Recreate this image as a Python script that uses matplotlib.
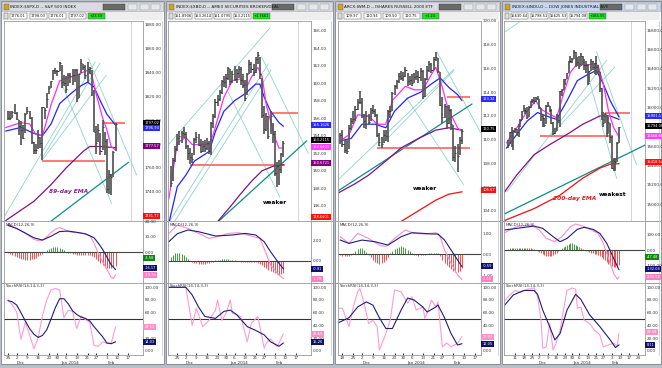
import numpy as np
import matplotlib
matplotlib.use("Agg")
import matplotlib.pyplot as plt
from matplotlib.patches import Rectangle

# bar index 0 = Nov 25 2013, one step per trading day
date_ticks = [-10, -5, 0, 4, 9, 14, 19, 23, 27, 32, 37, 41, 46, 51, 56, 61]
date_labels = ["11", "18", "25", "2", "9", "16", "23", "30", "6", "13", "21", "27", "3", "10", "17", "24"]
month_pos = [6, 29, 48]
month_labels = ["Dec", "Jan 2014", "Feb"]

# ---------------- S&P 500 ----------------
sp_start = 0
sp_high = [1808, 1808, 1808, 1814, 1807, 1800, 1799, 1796, 1806, 1811, 1808, 1803, 1782, 1780, 1792, 1786, 1811,
           1810, 1823, 1829, 1833, 1842, 1844, 1842, 1849, 1846, 1838, 1837, 1840, 1840, 1843, 1843, 1843, 1839,
           1851, 1847, 1846, 1849, 1845, 1842, 1825, 1795, 1797, 1789, 1800, 1790, 1784, 1758, 1755, 1774, 1798]
sp_low = [1800, 1800, 1802, 1805, 1800, 1788, 1779, 1784, 1789, 1805, 1801, 1780, 1772, 1772, 1776, 1777, 1767,
          1801, 1810, 1822, 1827, 1834, 1839, 1837, 1841, 1827, 1829, 1823, 1829, 1831, 1830, 1832, 1815, 1819,
          1840, 1842, 1835, 1832, 1839, 1820, 1790, 1772, 1782, 1771, 1775, 1771, 1739, 1738, 1737, 1752, 1774]
sp_close = [1802, 1802, 1807, 1806, 1801, 1795, 1792, 1785, 1805, 1808, 1802, 1782, 1775, 1775, 1786, 1781, 1811,
            1809, 1818, 1827, 1833, 1842, 1841, 1841, 1848, 1832, 1831, 1826, 1838, 1837, 1838, 1842, 1819, 1839,
            1848, 1845, 1838, 1843, 1844, 1829, 1790, 1781, 1792, 1774, 1794, 1783, 1742, 1755, 1752, 1773, 1797]
sp_fast = [(-1, 1794), (6, 1798), (10, 1797), (13, 1788), (16, 1787), (20, 1813), (24, 1833), (27, 1835),
           (32, 1838), (37, 1842), (39, 1838), (41, 1822), (44, 1802), (46, 1792), (48, 1778), (50, 1775)]
sp_mid = [(-1, 1791), (6, 1794), (12, 1789), (16, 1787), (20, 1797), (24, 1814), (29, 1822), (33, 1828),
          (37, 1832), (40, 1828), (43, 1816), (46, 1805), (50, 1796)]
sp_slow = [(-1, 1716), (12, 1732), (20, 1746), (27, 1760), (35, 1774), (38, 1778), (43, 1778), (50, 1777)]
sp_macd = [(0, 18), (2, 17), (4, 15.3), (6, 14), (8, 12.5), (10, 10.5), (12, 8.5), (14, 7.6), (16, 7.8), (18, 10),
           (20, 12.8), (22, 15), (24, 16), (26, 15), (28, 13.5), (30, 13), (32, 12.8), (34, 12.5), (36, 12),
           (38, 11), (40, 6), (42, -0.5), (44, -6), (46, -11), (48, -16), (49, -16.8), (50, -14.5)]
sp_signal = [(0, 17.4), (4, 15.5), (8, 12.5), (12, 9.5), (16, 8), (20, 10.5), (24, 13.5), (28, 13.8), (32, 13),
             (36, 12), (40, 9.5), (42, 6), (44, 2), (46, -3), (48, -8), (50, -11)]
sp_hist = [-0.5, -1.0, -1.6, -2.2, -2.8, -3.4, -3.9, -4.3, -4.6, -4.8, -4.7, -4.4, -3.9, -3.3, -2.6, -1.8, -0.9,
           0.4, 1.3, 2.1, 2.8, 3.3, 3.6, 3.5, 3.0, 2.2, 1.3,
           0.5, -0.2, -0.6, -0.9, -1.2, -1.5, -1.7, -1.8, -1.7, -1.5, -1.4, -1.6, -2.2,
           -3.2, -4.5, -5.8, -7.0, -8.0, -9.0, -9.8, -10.3, -10.2, -9.6, -8.8]
sp_k = [(0, 80), (2, 72), (4, 61), (6, 18), (8, 45), (10, 25), (12, 3), (14, 20), (16, 55), (18, 80), (20, 96),
        (22, 98), (24, 96), (26, 52), (28, 64), (30, 62), (32, 35), (34, 55), (36, 49), (38, 45), (40, 8),
        (42, 7), (44, 14), (46, 12), (48, 12), (50, 37)]
sp_d = [(0, 79), (2, 77), (4, 72), (6, 60), (8, 47), (10, 35), (12, 26), (14, 21), (16, 24), (18, 33), (20, 50),
        (22, 68), (24, 82), (26, 82), (28, 74), (30, 63), (32, 57), (34, 53), (36, 51), (38, 47), (40, 38),
        (42, 30), (44, 22), (46, 12), (48, 11), (50, 14)]
sp_levels = [(15.7, 45.1, 1765.5), (44.3, 54.4, 1798)]
sp_trends = [((-1.4, 1720.3), (40.5, 1848.9)), ((15.7, 1767.8), (42.8, 1848)), ((15.7, 1766.1), (45.6, 1837.6)),
             ((25, 1830.5), (48.2, 1730.2)), ((37.4, 1851.7), (59.8, 1754.2))]
sp_dark = ((19.5, 1714.7), (56, 1764.7))

# ---------------- AMEX Securities Broker/Dealer ----------------
xbd_start = -3
xbd_high = [150.5, 151.5, 152.8, 154.2, 154.5, 154.6, 155.0, 154.4, 153.0, 152.6, 152.0, 153.8, 154.4, 154.2,
            153.6, 153.4, 153.5, 153.8, 153.4, 155.6, 156.5, 158.2, 158.6, 159.2, 160.4, 160.8, 161.0, 161.9,
            161.6, 161.4, 162.0, 161.6, 162.0, 161.8, 161.0, 160.4, 161.2, 162.6, 162.4, 162.2, 163.0, 163.6,
            163.0, 160.6, 157.4, 156.6, 156.2, 156.8, 155.4, 154.6, 151.0, 151.2, 152.0, 153.4]
xbd_low = [148.2, 148.8, 151.0, 152.3, 153.0, 153.2, 153.8, 152.5, 151.2, 150.8, 150.9, 151.8, 153.2, 152.8,
           152.0, 152.1, 152.2, 152.4, 151.9, 151.8, 154.9, 156.0, 157.4, 158.0, 158.8, 159.6, 159.5, 160.4,
           159.8, 160.0, 160.2, 160.0, 160.6, 159.8, 159.4, 158.0, 158.6, 161.0, 161.2, 160.8, 161.2, 162.2,
           160.5, 156.0, 154.2, 154.6, 153.6, 154.2, 153.2, 149.4, 148.2, 148.4, 149.8, 151.6]
xbd_close = [148.6, 151.2, 152.5, 153.8, 154.0, 154.3, 154.2, 152.8, 152.0, 151.6, 151.3, 153.6, 153.9, 153.0,
             152.3, 152.8, 152.6, 153.2, 152.3, 155.4, 156.2, 157.9, 158.2, 159.0, 160.2, 160.1, 160.6, 161.7,
             160.3, 161.0, 160.5, 161.2, 161.6, 160.4, 159.8, 158.3, 161.0, 162.2, 161.6, 161.3, 162.8, 163.2,
             161.0, 156.4, 154.8, 156.2, 154.0, 156.2, 154.2, 149.8, 150.6, 150.2, 151.9, 153.2]
xbd_fast = [(-4, 146.8), (0, 153.2), (4, 153.8), (7, 153), (15, 153), (17, 154.2), (22, 158.4), (26, 160.3),
            (30, 160.5), (33, 159.7), (35, 160.7), (38, 161.8), (40, 160.8), (42, 157.5), (44, 155.7),
            (46, 153.8), (48, 152.6), (50, 152.6)]
xbd_mid = [(-4, 144), (0, 148.2), (4, 149.5), (8, 151.1), (15, 152.2), (18, 154.5), (22, 156.8), (27, 158),
           (32, 158.8), (37, 159.9), (39, 159.9), (41, 158.4), (44, 156.8), (48, 155.5), (50, 155.1)]
xbd_slow = [(19, 144.2), (25, 145.9), (30, 147.4), (35, 148.8), (40, 150.0), (45, 150.5), (50, 150.7)]
xbd_macd = [(-4, 2.73), (0, 3.57), (5, 3.23), (10, 2.73), (15, 2.23), (19, 2.4), (24, 2.73), (29, 2.8),
            (33, 2.57), (39, 2.23), (41, 1.2), (44, -0.43), (48, -1.43), (50, -1.77)]
xbd_signal = [(-4, 1.9), (0, 2.7), (5, 3.07), (10, 2.9), (18, 2.47), (26, 2.57), (32, 2.73), (37, 2.57),
              (41, 1.9), (44, 0.9), (48, -0.27), (50, -0.8)]
xbd_hist = [0.4, 0.6, 0.75, 0.8, 0.78, 0.7, 0.55, 0.4, 0.2,
            -0.05, -0.12, -0.2, -0.26, -0.3, -0.33, -0.33, -0.3, -0.26, -0.2, -0.14, -0.08,
            0.04, 0.08, 0.12, 0.15, 0.17, 0.17, 0.15, 0.12, 0.08, 0.04,
            -0.02, -0.05, -0.08, -0.1, -0.12, -0.14, -0.15, -0.16, -0.15, -0.14, -0.18, -0.3,
            -0.45, -0.6, -0.75, -0.9, -1.0, -1.1, -1.2, -1.3, -1.4, -1.35, -1.2]
xbd_k = [(-4, 100), (4, 100), (5, 80), (7, 40), (9, 67), (12, 38), (15, 48), (18, 64), (19, 80), (21, 48),
         (23, 59), (25, 80), (26, 59), (30, 54), (33, 14), (35, 43), (38, 54), (41, 4), (42, 12), (44, 19),
         (47, 6), (48, 12), (50, 26)]
xbd_d = [(-4, 100), (4, 100), (7, 88), (10, 69), (13, 54), (18, 51), (22, 62), (25, 64), (28, 57), (33, 38),
         (37, 32), (41, 25), (44, 14), (48, 7), (50, 12)]
xbd_levels = [(6, 50.8, 150.7), (44.5, 57, 156.6)]
xbd_trends = [((-4.2, 153), (43.7, 166.3)), ((-3.5, 144.3), (42.9, 162.2)), ((-1.1, 144.3), (44.2, 161.5)),
              ((24, 159), (48.4, 147)), ((39.8, 163), (61.8, 152))]
xbd_dark = ((19.3, 144.2), (61, 153.4))

# ---------------- iShares Russell 2000 ----------------
iwm_start = -6
iwm_high = [110.6, 110.8, 110.0, 110.0, 111.2, 111.8, 112.4, 112.8, 113.4, 114.1, 113.5, 112.2, 112.4, 112.2,
            112.7, 112.9, 112.6, 112.2, 110.6, 110.2, 110.8, 110.8, 112.5, 112.8, 114.0, 114.6, 115.0, 115.6,
            115.8, 115.7, 116.1, 115.6, 115.4, 115.5, 115.6, 115.9, 115.8, 116.0, 115.9, 115.2, 116.2, 116.6,
            116.5, 117.0, 117.4, 116.9, 115.7, 113.6, 113.0, 112.8, 112.9, 112.6, 111.2, 109.5, 109.6, 110.2, 110.9]
iwm_low = [109.6, 109.4, 108.9, 108.8, 109.2, 110.8, 111.3, 111.6, 112.5, 113.0, 111.8, 111.0, 110.9, 111.2,
           111.6, 112.2, 111.9, 110.2, 109.5, 109.3, 109.7, 109.9, 109.8, 111.8, 112.4, 113.8, 114.3, 114.8,
           115.0, 114.9, 115.3, 114.5, 114.6, 114.5, 114.8, 115.0, 114.8, 114.9, 113.4, 113.6, 115.0, 115.7,
           115.6, 115.9, 116.6, 115.6, 112.8, 111.4, 111.8, 110.9, 111.3, 110.8, 108.2, 108.1, 107.3, 108.7, 109.6]
iwm_close = [110.4, 109.6, 109.1, 109.0, 111.0, 111.6, 111.7, 112.6, 113.2, 113.2, 112.0, 111.6, 112.0, 111.5,
             112.5, 112.4, 112.1, 110.4, 109.8, 109.6, 110.4, 110.3, 112.4, 112.4, 113.9, 114.5, 114.9, 115.4,
             115.2, 115.4, 115.9, 114.9, 115.0, 114.8, 115.3, 115.4, 115.3, 115.8, 113.7, 115.1, 115.9, 116.4,
             115.9, 116.8, 117.0, 115.8, 112.9, 111.9, 112.8, 111.4, 112.5, 111.3, 108.5, 108.9, 108.6, 110.0, 110.75]
iwm_fast = [(-6, 109.9), (-2, 110.4), (2, 112.1), (7, 112), (11, 111.3), (15, 111.3), (18, 113.3), (24, 114.5),
            (28, 114.2), (32, 114.2), (36, 115.5), (38, 116.1), (41, 114.4), (43, 113), (45, 112.1), (48, 111),
            (50, 110.7)]
iwm_mid = [(-6, 109.9), (-1, 110.1), (4, 111.3), (10, 111.3), (15, 111), (19, 112.4), (25, 113.5), (31, 114),
           (36, 114.7), (40, 115.2), (44, 114.4), (48, 113.8), (50, 113.3)]
iwm_slow = [(-7, 105.5), (1, 106.3), (7, 107), (15, 108.2), (22, 109.3), (30, 110.1), (38, 110.8), (44, 111),
            (50, 110.8)]
iwm_200 = [(22, 103.1), (30, 104), (38, 104.9), (44, 105.4), (50, 105.6)]
iwm_macd = [(-6, 0.84), (-2, 0.52), (2, 1.0), (7, 0.76), (12, 0.44), (15, 0.37), (19, 0.76), (24, 1.16),
            (28, 1.0), (33, 0.97), (38, 1.03), (40, 0.84), (42, 0.21), (45, -0.43), (48, -0.98), (50, -1.2)]
iwm_signal = [(-6, 0.68), (-2, 0.52), (4, 0.68), (10, 0.6), (16, 0.44), (22, 0.84), (27, 1.03), (32, 1.0),
              (36, 0.97), (39, 0.97), (42, 0.68), (45, 0.21), (48, -0.27), (50, -0.59)]
iwm_hist = [-0.05, -0.08, -0.1, -0.1, -0.08, -0.04,
            0.05, 0.15, 0.25, 0.3, 0.28, 0.2, 0.1,
            -0.05, -0.15, -0.25, -0.35, -0.42, -0.45, -0.42, -0.35, -0.25, -0.12,
            0.05, 0.15, 0.25, 0.32, 0.37, 0.38, 0.36, 0.3, 0.22, 0.14, 0.06,
            -0.03, -0.05, -0.06, -0.05, -0.04, -0.02,
            0.03, 0.05, 0.07, 0.08, 0.07, 0.04,
            -0.1, -0.25, -0.4, -0.5, -0.6, -0.7, -0.78, -0.83, -0.85, -0.8, -0.65]
iwm_k = [(-7, 67), (-5, 67), (-3, 48), (-2, 38), (0, 69), (2, 93), (3, 98), (5, 75), (7, 43), (9, 48), (11, 38),
         (12, 1), (15, 27), (17, 48), (19, 96), (22, 93), (25, 75), (27, 85), (29, 64), (32, 69), (33, 51),
         (35, 69), (36, 80), (38, 69), (39, 77), (41, 6), (43, 12), (45, 6), (48, 12), (50, 22)]
iwm_d = [(-7, 44), (-2, 52), (2, 69), (6, 77), (9, 72), (12, 52), (15, 35), (18, 35), (22, 64), (25, 83),
         (28, 80), (32, 69), (34, 61), (38, 69), (39, 72), (42, 52), (45, 27), (48, 9), (50, 11)]
iwm_levels = [(10.8, 53.8, 109.3), (43, 53.8, 113.6)]
iwm_trends = [((-7.7, 106.5), (46.2, 115.9)), ((11.5, 109.3), (46.2, 115.8)),
              ((24.6, 113.5), (50.8, 106.2)), ((38.5, 117.4), (59.2, 110.4))]
iwm_dark = ((-7.7, 105.6), (54.6, 113))

# ---------------- Dow Jones Industrials ----------------
dj_start = -14
dj_high = [15660, 15750, 15797, 15770, 15790, 15780, 15825, 15880, 15965, 16030, 16000, 16010, 16020, 16065,
           16090, 16110, 16110, 16120, 16090, 16000, 15930, 15890, 16030, 16060, 16020, 15990, 15850, 15790,
           15930, 15900, 16170, 16190, 16290, 16300, 16360, 16480, 16530, 16510, 16590, 16570, 16520, 16530,
           16560, 16530, 16500, 16480, 16450, 16380, 16500, 16480, 16460, 16530, 16440, 16370, 16200, 15950,
           15940, 15920, 15900, 15840, 15710, 15480, 15480, 15640, 15800]
dj_low = [15580, 15620, 15590, 15560, 15740, 15710, 15700, 15800, 15870, 15960, 15930, 15880, 15900, 16000,
          16050, 16040, 16060, 16080, 15990, 15860, 15800, 15800, 15830, 16010, 15950, 15830, 15720, 15730,
          15760, 15840, 15800, 16120, 16180, 16230, 16290, 16360, 16460, 16460, 16500, 16420, 16430, 16400,
          16430, 16440, 16390, 16360, 16230, 16260, 16380, 16390, 16350, 16340, 16350, 16160, 15870, 15800,
          15840, 15700, 15740, 15630, 15360, 15340, 15340, 15440, 15630]
dj_close = [15618, 15746, 15593, 15761, 15783, 15750, 15821, 15876, 15962, 15976, 15967, 15900, 16009, 16064,
            16073, 16072, 16097, 16086, 16008, 15914, 15889, 15821, 16020, 16025, 15973, 15844, 15740, 15755,
            15885, 15875, 16167, 16179, 16221, 16294, 16357, 16479, 16478, 16504, 16577, 16441, 16469, 16425,
            16530, 16462, 16444, 16437, 16257, 16374, 16481, 16418, 16459, 16415, 16373, 16198, 15879, 15838,
            15929, 15739, 15849, 15699, 15373, 15445, 15440, 15629, 15794]
dj_fast = [(-15, 15635), (-9, 15791), (-3, 15965), (2, 16070), (5, 15983), (10, 15930), (14, 15896), (18, 16139),
           (22, 16365), (26, 16452), (31, 16435), (35, 16452), (38, 16435), (41, 16244), (44, 15965), (47, 15791),
           (50, 15700)]
dj_mid = [(-15, 15582), (-9, 15722), (-3, 15861), (3, 15948), (8, 15913), (14, 15878), (20, 16070), (26, 16278),
          (31, 16331), (37, 16383), (41, 16244), (45, 16070), (50, 15905)]
dj_slow = [(-16, 15130), (-9, 15304), (1, 15513), (10, 15617), (20, 15722), (29, 15826), (39, 15913),
           (45, 15913), (50, 15878)]
dj_200 = [(-16, 14834), (1, 14956), (16, 15095), (29, 15269), (39, 15374), (45, 15415), (50, 15420)]
dj_macd = [(-16, 111), (-9, 149), (-1, 160), (4, 128), (8, 74), (13, 53), (17, 85), (22, 149), (25, 166),
           (29, 153), (34, 128), (38, 106), (41, 43), (44, -53), (47, -149), (49, -185), (50, -175)]
dj_signal = [(-16, 128), (-9, 138), (1, 153), (6, 138), (12, 85), (16, 53), (20, 74), (26, 132), (30, 145),
             (35, 132), (39, 106), (43, 43), (47, -53), (50, -125)]
dj_hist = [8, 10, 12, 14, 15, 16, 16, 15, 14, 13, 12, 12, 11, 10, 8, 5, 2,
           -5, -12, -20, -27, -32, -36, -38, -38, -35, -30, -24, -16, -8,
           3, 10, 18, 26, 33, 38, 42, 42, 40, 35, 28, 20, 12, 5,
           -2, -5, -9, -13, -17, -20, -23, -26, -30, -36, -45, -55, -66, -77, -88, -97, -104, -108, -110, -105, -95]
dj_k = [(-16, 79), (-13, 88), (-10, 95), (-7, 92), (-3, 97), (1, 99), (3, 85), (5, 48), (6, 4), (8, 6), (10, 43),
        (12, 1), (14, 14), (16, 32), (18, 64), (20, 95), (23, 99), (25, 97), (26, 67), (28, 69), (30, 48),
        (33, 43), (36, 32), (39, 25), (41, 6), (44, 9), (47, 12), (49, 7), (50, 27)]
dj_d = [(-16, 72), (-11, 88), (-5, 95), (1, 95), (3, 89), (6, 64), (10, 38), (13, 17), (16, 27), (20, 64),
        (25, 89), (28, 81), (33, 57), (39, 38), (45, 17), (48, 5), (50, 9)]
dj_levels = [(4.4, 46.7, 15704), (41.9, 56.3, 15948)]
dj_trends = [((-14.8, 15130), (42.9, 16487)), ((10.2, 15704), (47.7, 16418)), ((-15.8, 16783), (-6.2, 16898)),
             ((37.1, 16574), (60.2, 15408)), ((29.4, 16505), (48.7, 15269))]
dj_dark = ((-15.8, 14904), (73.7, 15687))

# ---------------------------------------------------------------- layout
W, H = 662, 368
fig = plt.figure(figsize=(W / 100, H / 100), dpi=100)
fig.patch.set_facecolor("#b9bec8")

panels = [
    dict(title="INDEX:$SPX,D -- S&P 500 INDEX", quote=["1776.01", "1798.03", "1776.01", "1797.02", "+23.59"],
         win=(1, 164), plot=(4, 143), xlim=(-1.9, 62.8), ylim=(1715.5, 1883.3), yticks=range(1740, 1881, 20),
         mlim=(-19.7, 20.3), mticks=[0, 10, 20], start=sp_start, high=sp_high, low=sp_low, close=sp_close,
         fast=sp_fast, mid=sp_mid, slow=sp_slow, ema200=None, macd=sp_macd, signal=sp_signal, hist=sp_hist,
         k=sp_k, d=sp_d, levels=sp_levels, trends=sp_trends, dark=sp_dark, future=57, tbar="#d9dbe0",
         dlabels=(2, 15),
         notes=[(28, 1740, "89-day EMA", "#8a1a9a", "italic")],
         pboxes=[("1797.02", 123.3, "black"), ("1796.94", 127.8, "#2a2aff"), ("1777.57", 145.7, "#800080"),
                 ("1731.77", 216.3, "#ff1010")],
         mboxes=[("-3.58", 258.3, "#0a8a0a"), ("-16.17", 268.3, "#10106e"), ("-19.76", 274.6, "#ff7fc4")],
         sboxes=[("27.53", 326.7, "#ff8fc8"), ("14.03", 342.3, "#10106e")]),
    dict(title="INDEX:$XBD,D -- AMEX SECURITIES BROKER/DEAL",
         quote=["151.8906", "153.2614", "151.0795", "153.2115", "+1.7661"],
         win=(166, 333), plot=(168, 311), xlim=(-4.4, 63.1), ylim=(144.27, 167.1), yticks=range(146, 167, 2),
         mlim=(-2.23, 3.97), mticks=[0, 2], start=xbd_start, high=xbd_high, low=xbd_low, close=xbd_close,
         fast=xbd_fast, mid=xbd_mid, slow=xbd_slow, ema200=None, macd=xbd_macd, signal=xbd_signal,
         hist=xbd_hist, k=xbd_k, d=xbd_d, levels=xbd_levels, trends=xbd_trends, dark=xbd_dark, future=57,
         tbar="#d9dbe0", dlabels=(2, 15),
         notes=[(46.1, 146.4, "weaker", "black", "normal")],
         pboxes=[("155.1626", 125, "#2a2aff"), ("153.2115", 140, "black"), ("152.6401", 146.7, "#ff40ff"),
                 ("150.6721", 163.3, "#800080"), ("138.6401", 217.3, "#ff1010")],
         mboxes=[("-0.91", 269.3, "#10106e"), ("-1.79", 279, "#ff7fc4")],
         sboxes=[("26.63", 334, "#ff8fc8"), ("15.26", 342.3, "#10106e")]),
    dict(title="ARCX:IWM,D -- ISHARES RUSSELL 2000 ETF", quote=["109.97", "110.94", "109.50", "110.75", "+1.24"],
         win=(335, 500), plot=(338, 481), xlim=(-7.05, 58.8), ylim=(103.14, 119.97), yticks=range(104, 121, 2),
         mlim=(-1.37, 1.59), mticks=[-1, 0, 1], start=iwm_start, high=iwm_high, low=iwm_low, close=iwm_close,
         fast=iwm_fast, mid=iwm_mid, slow=iwm_slow, ema200=iwm_200, macd=iwm_macd, signal=iwm_signal,
         hist=iwm_hist, k=iwm_k, d=iwm_d, levels=iwm_levels, trends=iwm_trends, dark=iwm_dark, future=None,
         tbar="#d9dbe0", dlabels=(1, 15),
         notes=[(33, 105.9, "weaker", "black", "normal")],
         pboxes=[("113.34", 99, "#2a2aff"), ("110.75", 129.3, "black"), ("105.67", 190, "#ff1010")],
         mboxes=[("-0.59", 266, "#10106e"), ("-1.15", 279, "#ff7fc4")],
         sboxes=[("22.03", 337.3, "#ff8fc8"), ("12.05", 344, "#10106e")]),
    dict(title="INDEX:$INDU,D -- DOW JONES INDUSTRIAL AVE",
         quote=["15630.64", "15798.51", "15625.53", "15794.08", "+165.55"],
         win=(502, 661), plot=(504, 645), xlim=(-16.4, 65.1), ylim=(14828, 16894), yticks=range(15000, 16801, 200),
         mlim=(-210, 185), mticks=[-100, 0, 100], start=dj_start, high=dj_high, low=dj_low, close=dj_close,
         fast=dj_fast, mid=dj_mid, slow=dj_slow, ema200=dj_200, macd=dj_macd, signal=dj_signal, hist=dj_hist,
         k=dj_k, d=dj_d, levels=dj_levels, trends=dj_trends, dark=dj_dark, future=57, tbar="#c6d6ee",
         dlabels=(0, 16),
         notes=[(24.7, 15060, "200-day EMA", "#ee1111", "italic"), (46.6, 15102, "weakest", "black", "normal")],
         pboxes=[("15901.11", 115.7, "#2a2aff"), ("15794.08", 125.7, "black"), ("15668.80", 136, "#ff40ff"),
                 ("15418.54", 161.7, "#ff1010")],
         mboxes=[("-47.48", 256.7, "#0a8a0a"), ("-132.04", 269.3, "#10106e"), ("-208.52", 276.7, "#ff7fc4")],
         sboxes=[("29.58", 331.7, "#ff8fc8"), ("8.11", 345, "#10106e")]),
]

PRICE_Y = (21, 221)
MACD_Y = (221, 283)
STOCH_Y = (283, 355)


def px_axes(x0, x1, y0, y1, **kw):
    return fig.add_axes([x0 / W, 1 - y1 / H, (x1 - x0) / W, (y1 - y0) / H], **kw)


def style(ax, xlim, ylim, yticks, fmt="%.2f"):
    ax.set_facecolor("white")
    ax.set_xlim(*xlim)
    ax.set_ylim(*ylim)
    ax.yaxis.tick_right()
    ax.set_yticks(list(yticks))
    ax.set_yticklabels([fmt % v for v in yticks])
    ax.tick_params(axis="y", length=0, pad=1.5, labelsize=3.0, colors="#333333")
    ax.set_xticks([])
    for s in ax.spines.values():
        s.set_color("#9a9a9a")
        s.set_linewidth(0.6)


def line(ax, pts, **kw):
    xs, ys = zip(*pts)
    ax.plot(xs, ys, **kw)


bg = fig.add_axes([0, 0, 1, 1], zorder=-5)
bg.set_xlim(0, W)
bg.set_ylim(H, 0)
bg.axis("off")

for p in panels:
    wl, wr = p["win"]
    x0, x1 = p["plot"]
    bg.add_patch(Rectangle((wl, 1), wr - wl, 363, fc="white", ec="#7f8590", lw=0.6))
    bg.add_patch(Rectangle((wl + 1, 2), wr - wl - 2, 9, fc=p["tbar"], ec="#a0a4ac", lw=0.4))
    bg.add_patch(Rectangle((wl + 2.5, 3.5), 5, 6, fc="#c9a23c", ec="#6b5a22", lw=0.3))
    bg.text(wl + 9.5, 6.8, p["title"], fontsize=3.0, va="center", ha="left", color="#1a1a1a")
    bg.add_patch(Rectangle((wr - 61, 3.5), 22, 6, fc="#6a6a6a", ec="#333333", lw=0.3))
    for b in range(3):
        bg.add_patch(Rectangle((wr - 36 + 11.5 * b, 3.5), 9, 6, fc="#e6e7ea", ec="#8a8e96", lw=0.3))
    # quote row
    bg.add_patch(Rectangle((wl + 1, 12), wr - wl - 2, 8, fc="#eeeeee", ec="none"))
    bg.add_patch(Rectangle((wl + 2.5, 13.2), 4, 5.5, fc="#dddddd", ec="#555555", lw=0.3))
    for q, txt in enumerate(p["quote"]):
        fc = "#19e619" if q == 4 else "white"
        bg.add_patch(Rectangle((wl + 9 + 19.5 * q, 13), 17, 6, fc=fc, ec="#555555", lw=0.3))
        bg.text(wl + 17.5 + 19.5 * q, 16.2, txt, fontsize=2.6, ha="center", va="center", color="#111111")
    # pane separators across label column
    for yy in (MACD_Y[0], STOCH_Y[0]):
        bg.plot([wl + 1, wr - 1], [yy, yy], color="#8a8a8a", lw=0.6)
    bg.plot([wr - 2, wr - 2], [21, 355], color="#c0c0c0", lw=0.5)
    bg.plot([wl + 1, wr - 1], [364, 364], color="#8a8a8a", lw=0.5)

    # ---- price pane
    ax = px_axes(x0, x1, *PRICE_Y)
    style(ax, p["xlim"], p["ylim"], p["yticks"])
    if p["future"] is not None:
        ax.axvline(p["future"], color="#cfcfcf", lw=0.6)
    for (a, b) in p["trends"]:
        ax.plot([a[0], b[0]], [a[1], b[1]], color="#8fd3d0", lw=0.6)
    a, b = p["dark"]
    ax.plot([a[0], b[0]], [a[1], b[1]], color="#0f8c86", lw=0.9)
    for (i0, i1, lvl) in p["levels"]:
        ax.plot([i0, i1], [lvl, lvl], color="#ff6a6a", lw=1.4, alpha=0.9, solid_capstyle="butt")
    if p["ema200"] is not None:
        line(ax, p["ema200"], color="#ee1111", lw=0.9)
    line(ax, p["slow"], color="#80108a", lw=0.9)
    line(ax, p["mid"], color="#2424ff", lw=0.9)
    line(ax, p["fast"], color="#ff2cff", lw=0.9)
    xs = np.arange(p["start"], p["start"] + len(p["high"]))
    ax.vlines(xs, p["low"], p["high"], color="#555555", lw=1.25)
    ax.hlines(p["close"], xs, xs + 0.5, color="#111111", lw=0.6)
    for (nx, ny, txt, col, sty) in p["notes"]:
        ax.text(nx, ny, txt, fontsize=4.2, color=col, style=sty, fontweight="bold", ha="center", va="center")

    # ---- MACD pane
    ax = px_axes(x0, x1, *MACD_Y)
    style(ax, p["xlim"], p["mlim"], p["mticks"])
    hx = np.arange(p["start"], p["start"] + len(p["hist"]))
    hv = np.array(p["hist"])
    ax.vlines(hx, 0, hv, colors=np.where(hv >= 0, "#3c9c3c", "#ff4a4a"), lw=0.7)
    ax.axhline(0, color="#444444", lw=0.8)
    line(ax, p["macd"], color="#ff8cc8", lw=0.8)
    line(ax, p["signal"], color="#1c1c82", lw=0.8)
    ax.text(0.01, 0.96, "MACD(12,26,9)", transform=ax.transAxes, fontsize=2.8, va="top", color="#333333")

    # ---- StochRSI pane
    ax = px_axes(x0, x1, *STOCH_Y)
    style(ax, p["xlim"], (-6.8, 106.8), [0, 20, 40, 60, 80, 100])
    ax.axhline(50, color="#333333", lw=0.8)
    line(ax, p["k"], color="#ff9ccf", lw=0.8)
    line(ax, p["d"], color="#1c1c82", lw=0.8)
    ax.text(0.01, 0.985, "StochRSI(14,14,3,3)", transform=ax.transAxes, fontsize=2.8, va="top", color="#333333")
    lo, hi = p["dlabels"]
    ax.set_xticks(date_ticks[lo:hi])
    ax.set_xticklabels(date_labels[lo:hi])
    ax.tick_params(axis="x", length=1.2, pad=0.6, labelsize=3.0, colors="#333333", direction="in")
    for mx, mt in zip(month_pos, month_labels):
        ax.text(mx, -0.085, mt, transform=ax.get_xaxis_transform(), fontsize=3.0, ha="center", va="top",
                color="#333333")

# value boxes on the right scale (drawn on top)
top = fig.add_axes([0, 0, 1, 1], zorder=10)
top.set_xlim(0, W)
top.set_ylim(H, 0)
top.axis("off")
top.patch.set_alpha(0)
for p in panels:
    x1 = p["plot"][1]
    for txt, yy, col in p["pboxes"] + p["mboxes"] + p["sboxes"]:
        top.text(x1 + 1.5, yy, txt, fontsize=2.6, color="white", ha="left", va="center",
                 bbox=dict(boxstyle="square,pad=0.3", fc=col, ec="none"))

fig.savefig("out.png", dpi=100, facecolor=fig.get_facecolor())
plt.close(fig)
